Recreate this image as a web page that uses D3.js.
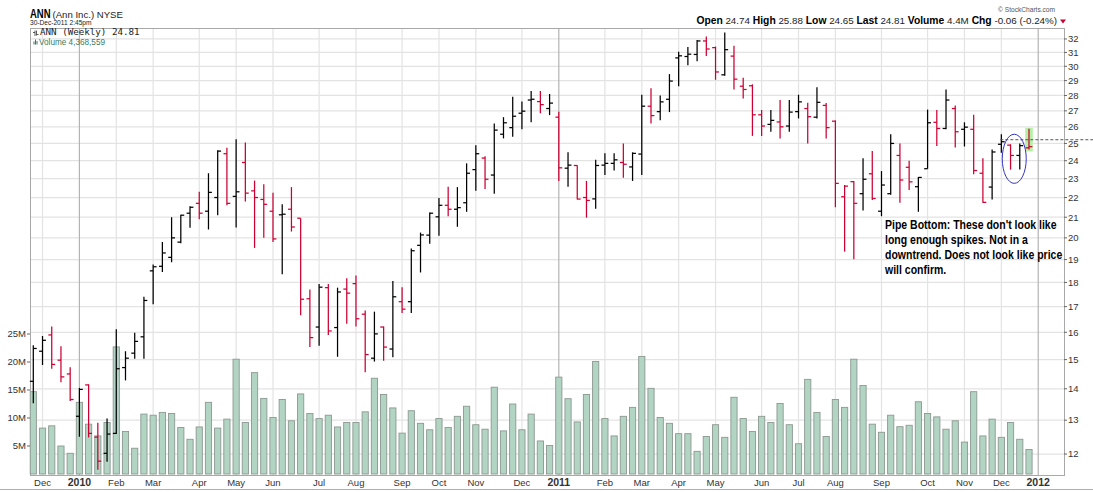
<!DOCTYPE html>
<html><head><meta charset="utf-8">
<script src="https://cdn.jsdelivr.net/npm/d3@7"></script>
<style>body{margin:0;background:#fff}svg{display:block}</style>
</head><body>
<svg id="c" width="1093" height="492"></svg>
<script>
// ---- data (weekly bars, ANN, late Nov 2009 - 30 Dec 2011) ----
const openP  = [14.25,15.3,15.9,14.98,14.5,13.12,14.13,12.49,12.02,12.6,14.72,15.23,15.83,18.5,18.7,19.1,19.8,21.2,21.7,21.3,22.0,24.4,22.06,23.9,22.35,21.9,21.3,21.12,21.4,20.95,17.32,16.2,17.78,16.18,17.72,17.95,16.7,15.05,16.2,15.38,17.2,17.2,19.65,20.13,21.02,21.6,21.4,21.73,23.5,24.15,23.2,25.55,25.95,26.85,27.7,27.6,27.15,26.6,23.58,23.73,22.0,21.93,23.75,23.85,23.9,23.65,24.38,27.3,26.95,27.75,30.6,30.7,30.85,31.85,31.35,29.4,30.73,28.62,28.65,26.75,26.15,26.3,26.05,26.95,27.15,26.6,27.35,26.35,22.04,22.84,22.2,23.27,21.3,22.2,24.3,23.63,22.57,23.55,26.28,25.9,27.15,25.85,25.85,23.3,22.55,24.95,24.9,24.3,24.74];
const highP  = [15.52,15.86,16.22,15.48,14.73,14.03,14.15,12.92,13.05,16.12,15.3,15.98,17.4,18.78,19.8,21.0,21.12,21.55,22.3,23.3,24.6,24.75,25.25,25.06,22.9,22.7,22.25,21.65,22.55,20.95,17.7,17.93,17.93,17.78,18.18,18.3,16.85,16.8,16.22,18.06,17.8,19.5,20.25,21.24,21.98,22.57,22.55,23.85,24.9,24.25,26.2,26.6,27.92,27.6,28.3,28.3,28.1,26.95,24.48,23.75,22.88,24.05,24.42,24.42,25.0,24.48,28.05,28.48,28.0,29.45,31.04,31.4,31.93,32.18,31.43,32.5,31.5,29.2,28.75,27.05,27.05,27.7,27.7,28.05,27.53,28.55,27.5,26.4,22.66,22.88,24.14,24.55,23.42,25.55,25.0,24.0,23.1,27.08,27.05,28.4,27.35,26.28,26.75,24.14,24.65,25.55,24.95,25.0,25.88];
const lowP   = [13.53,14.81,14.68,14.22,13.6,12.5,12.48,11.56,11.78,12.58,14.28,15.03,15.03,17.1,18.45,18.88,19.75,20.48,20.9,20.4,21.1,21.6,20.5,21.8,19.53,20.0,19.8,18.35,20.3,16.66,15.45,15.5,15.9,15.1,16.33,16.22,14.56,14.93,14.96,15.08,16.75,16.75,18.43,19.72,20.1,21.05,20.53,21.27,22.35,22.45,22.2,25.3,25.4,25.85,26.28,26.85,26.73,22.87,22.57,21.9,20.98,21.43,23.2,23.45,23.05,22.88,23.2,26.2,26.4,26.92,28.62,30.07,30.35,30.73,29.06,29.34,28.4,27.8,25.45,25.45,25.7,25.3,25.7,26.52,25.0,26.52,25.3,21.5,19.36,19.01,21.33,21.87,21.05,22.15,21.73,22.4,21.27,23.55,24.85,25.85,24.76,24.82,23.25,21.73,21.9,24.45,23.5,23.5,24.65];
const closeP = [15.4,15.7,14.83,14.4,13.65,13.98,12.6,11.8,12.58,14.68,15.05,15.66,17.25,18.68,19.3,20.0,21.1,21.5,21.2,22.27,24.55,21.7,22.3,22.23,22.0,21.65,19.95,21.15,20.52,17.3,15.8,17.8,16.05,17.6,17.55,16.52,15.18,15.94,15.45,17.4,16.9,19.4,20.14,21.2,21.6,21.4,21.48,23.3,24.4,22.97,25.8,26.25,26.66,26.98,27.75,27.4,27.5,23.6,23.75,21.92,21.85,23.73,23.85,24.05,23.8,24.42,27.3,26.7,27.58,28.97,30.75,30.87,31.85,31.25,29.6,31.2,29.1,28.4,26.75,26.05,26.4,26.0,26.92,27.58,26.63,27.55,25.95,22.75,22.6,21.7,22.97,21.95,22.66,25.0,22.93,22.83,23.07,26.25,25.9,27.7,25.7,25.98,23.45,21.75,24.5,25.1,24.3,24.87,24.81];
const volumeM = [14.7,8.2,8.6,5.0,3.7,12.8,8.9,6.8,9.2,22.7,7.6,4.6,10.7,10.5,11.0,10.8,8.3,6.2,8.4,12.8,8.2,9.8,20.5,9.2,18.1,13.5,10.1,13.3,9.5,14.3,10.8,9.9,10.5,8.4,9.2,9.2,11.1,17.1,14.2,11.8,7.3,11.3,9.05,7.9,9.9,8.3,10.3,12.1,8.8,8.0,15.5,7.7,12.5,7.9,10.7,5.9,5.1,17.3,13.45,9.3,14.2,20.1,9.9,6.8,10.3,11.9,21.0,15.3,10.1,9.05,7.2,7.2,4.05,6.7,8.8,6.55,13.7,9.9,7.6,10.3,9.2,12.6,8.8,5.4,16.9,11.0,6.7,13.3,11.9,20.5,15.8,8.9,7.45,10.5,8.45,8.7,12.9,10.8,10.2,8.0,9.5,5.7,14.7,6.8,9.8,6.55,9.2,6.2,4.37];
const monthTickIdx = [1,5,9,13,18,22,26,31,35,40,44,48,53,57,62,66,70,74,79,83,87,92,97,101,105,109];
const monthTickLbl = ["Dec","2010","Feb","Mar","Apr","May","Jun","Jul","Aug","Sep","Oct","Nov","Dec","2011","Feb","Mar","Apr","May","Jun","Jul","Aug","Sep","Oct","Nov","Dec","2012"];
const priceTicks = [12,13,14,15,16,17,18,19,20,21,22,23,24,25,26,27,28,29,30,31,32];
const volTicks = [5,10,15,20,25];
const noteLines = ["Pipe Bottom: These don't look like","long enough spikes. Not in a","downtrend. Does not look like price","will confirm."];
const headerParts = [["Open","24.74"],["High","25.88"],["Low","24.65"],["Last","24.81"],["Volume","4.4M"],["Chg","-0.06 (-0.24%)"]];
const dashLevel = 25.22;

// ---- layout ----
const L = 30, R = 1064, T = 28, B = 475;
const FONT = "'Liberation Sans', Arial, sans-serif";
const svg = d3.select('#c');
const n = closeP.length;
const x = d3.scaleLinear().domain([0, n - 1]).range([33.3, 1029]);
const y = d3.scaleLog().domain([11.42, 32.84]).range([B, T]);
const yv = d3.scaleLinear().domain([0, 25]).range([474, 334]);

const UP = "#000000", DOWN = "#cc0033";
const isYear = s => /^\d{4}$/.test(s);

// gridlines
const g = svg.append('g');
g.selectAll('line.hg').data(priceTicks).join('line')
  .attr('x1', L).attr('x2', R).attr('y1', d => y(d)).attr('y2', d => y(d))
  .attr('stroke', '#e3e3e3').attr('stroke-width', 1.2);
g.selectAll('line.vg').data(monthTickIdx).join('line')
  .attr('x1', d => x(d)).attr('x2', d => x(d)).attr('y1', T).attr('y2', B)
  .attr('stroke', (d, i) => isYear(monthTickLbl[i]) ? '#b4b4b4' : '#e3e3e3')
  .attr('stroke-width', 1.2);

// frame
svg.append('rect').attr('x', L + 0.5).attr('y', T + 0.5).attr('width', R - L).attr('height', B - T)
  .attr('fill', 'none').attr('stroke', '#a8a8a8');
svg.append('line').attr('x1', 0).attr('x2', 1093).attr('y1', 489.5).attr('y2', 489.5).attr('stroke', '#b0b0b0');

// volume bars
const bw = 6.2;
svg.append('g').selectAll('rect').data(volumeM).join('rect')
  .attr('x', (d, i) => x(i) - bw / 2).attr('width', bw)
  .attr('y', d => yv(d)).attr('height', d => yv(0) - yv(d))
  .attr('fill', '#b2d4c3').attr('stroke', '#8c9891').attr('stroke-width', 0.9);

// green highlight behind last bar
const li = n - 1;
svg.append('rect').attr('x', x(li) - 3.8).attr('width', 7.6)
  .attr('y', y(highP[li]) - 1).attr('height', y(lowP[li]) - y(highP[li]) + 3)
  .attr('fill', '#b6f0a6');

// OHLC bars
const bars = svg.append('g').selectAll('g').data(closeP).join('g')
  .attr('stroke', (d, i) => (i === 0 || d >= closeP[i - 1]) ? UP : DOWN)
  .attr('stroke-width', 1.25);
bars.append('line').attr('x1', (d, i) => x(i)).attr('x2', (d, i) => x(i))
  .attr('y1', (d, i) => y(highP[i])).attr('y2', (d, i) => y(lowP[i]));
bars.append('line').attr('x1', (d, i) => x(i) - 3.4).attr('x2', (d, i) => x(i))
  .attr('y1', (d, i) => y(openP[i])).attr('y2', (d, i) => y(openP[i]));
bars.append('line').attr('x1', (d, i) => x(i)).attr('x2', (d, i) => x(i) + 3.4)
  .attr('y1', (d, i) => y(closeP[i])).attr('y2', (d, i) => y(closeP[i]));

// dashed level + ellipse annotation
svg.append('line').attr('x1', x(105) - 1).attr('x2', 1093)
  .attr('y1', y(dashLevel)).attr('y2', y(dashLevel))
  .attr('stroke', '#555').attr('stroke-width', 1).attr('stroke-dasharray', '3,2');
svg.append('ellipse')
  .attr('cx', x(106.4)).attr('cy', (y(25.55) + y(22.75)) / 2)
  .attr('rx', (x(107.7) - x(105.1)) / 2).attr('ry', (y(22.75) - y(25.55)) / 2)
  .attr('fill', 'none').attr('stroke', '#3434c8').attr('stroke-width', 1);

// right price axis
const ra = svg.append('g');
ra.selectAll('line').data(priceTicks).join('line')
  .attr('x1', R).attr('x2', R + 3).attr('y1', d => y(d)).attr('y2', d => y(d)).attr('stroke', '#666');
ra.selectAll('text').data(priceTicks).join('text')
  .attr('x', R + 4).attr('y', d => y(d) + 3.3).text(d => d)
  .attr('font-family', FONT).attr('font-size', 9.5).attr('fill', '#333');

// left volume axis
const la = svg.append('g');
la.selectAll('line').data(volTicks).join('line')
  .attr('x1', L - 3).attr('x2', L).attr('y1', d => yv(d)).attr('y2', d => yv(d)).attr('stroke', '#666');
la.selectAll('text').data(volTicks).join('text')
  .attr('x', L - 4).attr('y', d => yv(d) + 3.3).attr('text-anchor', 'end').text(d => d + 'M')
  .attr('font-family', FONT).attr('font-size', 9.5).attr('fill', '#333');

// bottom month axis
svg.append('g').selectAll('text').data(monthTickIdx).join('text')
  .attr('x', d => x(d)).attr('y', 486).attr('text-anchor', 'middle')
  .text((d, i) => monthTickLbl[i])
  .attr('font-family', FONT)
  .attr('font-weight', (d, i) => isYear(monthTickLbl[i]) ? 'bold' : 'normal')
  .attr('font-size', (d, i) => isYear(monthTickLbl[i]) ? 10.5 : 9.5)
  .attr('fill', '#333');

// header
svg.append('g').attr('transform', 'translate(30,17.5) scale(0.76,1)')
  .append('text').attr('x', 0).attr('y', 0).text('ANN')
  .attr('font-family', FONT).attr('font-weight', 'bold').attr('font-size', 12.5).attr('fill', '#000');
svg.append('text').attr('x', 52.5).attr('y', 17.5).text('(Ann Inc.) NYSE')
  .attr('font-family', FONT).attr('font-size', 9.6).attr('fill', '#222');
svg.append('text').attr('x', 30).attr('y', 24.8).text('30-Dec-2011 2:45pm')
  .attr('font-family', FONT).attr('font-size', 6.6).attr('fill', '#222');
svg.append('text').attr('x', 1055).attr('y', 12).attr('text-anchor', 'end').text('\u00A9 StockCharts.com')
  .attr('font-family', FONT).attr('font-size', 6.6).attr('fill', '#555');
const h2 = svg.append('text').attr('x', 1057).attr('y', 24).attr('text-anchor', 'end')
  .attr('font-family', FONT).attr('font-size', 9.8).attr('fill', '#000');
headerParts.forEach((p, i) => {
  h2.append('tspan').text((i ? '  ' : '') + p[0]).attr('font-weight', 'bold').attr('font-size', 10.3);
  h2.append('tspan').text(' ' + p[1]).attr('fill', '#222');
});
svg.append('path').attr('d', 'M1060,19.5 L1066,19.5 L1063,23.5 Z').attr('fill', '#cc0033');

// legend inside plot
const lg = svg.append('g');
lg.append('path').attr('d', 'M35,30.5V36M33,32.5H35M36.5,30.5V35.5M36.5,34.5H38.5').attr('stroke', '#333').attr('fill', 'none').attr('stroke-width', 0.8);
lg.append('text').attr('x', 40).attr('y', 35.3).text('ANN (Weekly) 24.81')
  .attr('font-family', "'DejaVu Sans Mono', monospace").attr('font-size', 9.2).attr('fill', '#222');
lg.append('path').attr('d', 'M34,44.5V41.5M35.5,44.5V39.5M37,44.5V41').attr('stroke', '#3c7a60').attr('fill', 'none').attr('stroke-width', 1);
lg.append('text').attr('x', 39).attr('y', 45).text('Volume 4,368,559')
  .attr('font-family', FONT).attr('font-size', 8.2).attr('fill', '#3c7a60');

// note
svg.append('g').attr('transform', 'translate(885,0) scale(0.875,1)')
  .selectAll('text').data(noteLines).join('text')
  .attr('x', 0).attr('y', (d, i) => 229.5 + i * 14.7).text(d => d)
  .attr('font-family', FONT)
  .attr('font-weight', 'bold').attr('font-size', 12).attr('fill', '#000');
</script>
</body></html>
